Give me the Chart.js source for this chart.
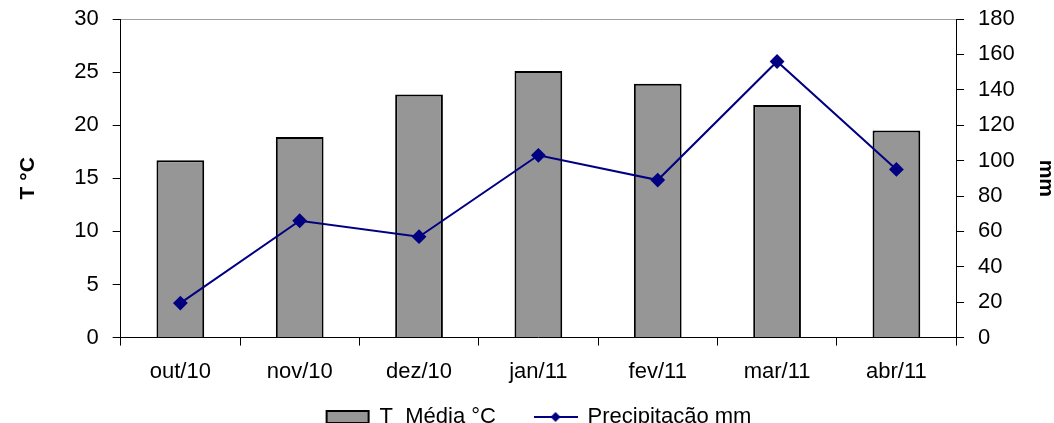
<!DOCTYPE html>
<html><head><meta charset="utf-8">
<script src="https://cdn.jsdelivr.net/npm/chart.js@4.4.1/dist/chart.umd.min.js"></script>
<style>html,body{margin:0;padding:0;background:#fff}#wrap{width:1054px;height:423px}</style>
</head><body><div id="wrap"><canvas id="c" width="1054" height="423"></canvas></div>
<script>
const categories = ['out/10','nov/10','dez/10','jan/11','fev/11','mar/11','abr/11'];
const tempMedia = [16.7, 18.9, 22.9, 25.1, 23.9, 21.9, 19.5];
const precipitacao = [19.5, 66, 57, 103, 89, 156, 95];
const leftTicks = [0,5,10,15,20,25,30];
const rightTicks = [0,20,40,60,80,100,120,140,160,180];
const legendLabels = ['T  Média °C', 'Precipitação mm'];

const FONT = 'Liberation Sans, Arial, sans-serif';
const NAVY = '#000080';

const lineIcon = document.createElement('canvas');
lineIcon.width = 44; lineIcon.height = 12;
(function(){
  const g = lineIcon.getContext('2d');
  g.strokeStyle = NAVY; g.lineWidth = 2;
  g.beginPath(); g.moveTo(0,6); g.lineTo(44,6); g.stroke();
  g.fillStyle = NAVY; g.beginPath();
  g.moveTo(22,1); g.lineTo(27,6); g.lineTo(22,11); g.lineTo(17,6); g.closePath(); g.fill();
})();

const noVPad = (s) => { s.paddingTop = 0; s.paddingBottom = 0; };

new Chart(document.getElementById('c'), {
  data: {
    labels: categories,
    datasets: [
      { type:'bar', label:legendLabels[0], data: tempMedia, yAxisID:'y',
        backgroundColor:'#969696', borderColor:'#000', borderWidth:2, borderSkipped:'bottom',
        barPercentage:0.4, categoryPercentage:1, order:1 },
      { type:'line', label:legendLabels[1], data: precipitacao, yAxisID:'y1',
        borderColor:NAVY, backgroundColor:NAVY, borderWidth:2, pointStyle:'rectRot',
        pointRadius:6, pointHoverRadius:6, tension:0, order:0 }
    ]
  },
  options: {
    responsive:false, animation:false,
    layout:{ padding:{ left:12, right:-12, top:19, bottom:-15 } },
    plugins:{
      tooltip:{enabled:false},
      legend:{ position:'bottom',
        labels:{ font:{family:FONT,size:22}, color:'#000', boxWidth:42, boxHeight:12, padding:8,
          usePointStyle:true, pointStyleWidth:42,
          generateLabels:(chart)=>[
            { text:legendLabels[0] + '     ', fillStyle:'#969696', strokeStyle:'#000', lineWidth:2, pointStyle:'rect', datasetIndex:0 },
            { text:legendLabels[1], fillStyle:NAVY, strokeStyle:NAVY, lineWidth:0, pointStyle:lineIcon, datasetIndex:1 }
          ]
        }
      }
    },
    scales:{
      x:{
        grid:{ offset:true, drawOnChartArea:false, tickLength:8, color:'#000', tickColor:'#000' },
        border:{ display:true, color:'#000', width:1 },
        ticks:{ font:{family:FONT,size:22}, color:'#000', padding:13 }
      },
      y:{ position:'left', min:0, max:30, afterFit: noVPad,
        afterBuildTicks:(ax)=>{ ax.ticks = leftTicks.map(v=>({value:v})); },
        grid:{ drawOnChartArea:true, color:(c)=> c.tick && c.tick.value===30 ? '#a0a0a0' : 'rgba(0,0,0,0)', tickColor:'#000', tickLength:8 },
        border:{ display:true, color:'#000', width:1 },
        ticks:{ font:{family:FONT,size:22}, color:'#000', padding:14 },
        title:{ display:true, text:'T °C', font:{family:FONT,size:21,weight:'bold'}, color:'#000', padding:{bottom:19} }
      },
      y1:{ position:'right', min:0, max:180, afterFit: noVPad,
        afterBuildTicks:(ax)=>{ ax.ticks = rightTicks.map(v=>({value:v})); },
        grid:{ drawOnChartArea:false, tickColor:'#000', tickLength:8 },
        border:{ display:true, color:'#000', width:1 },
        ticks:{ font:{family:FONT,size:22}, color:'#000', padding:14 },
        title:{ display:true, text:'mm', font:{family:FONT,size:21,weight:'bold'}, color:'#000', padding:{top:8} }
      }
    }
  }
});
</script></body></html>
